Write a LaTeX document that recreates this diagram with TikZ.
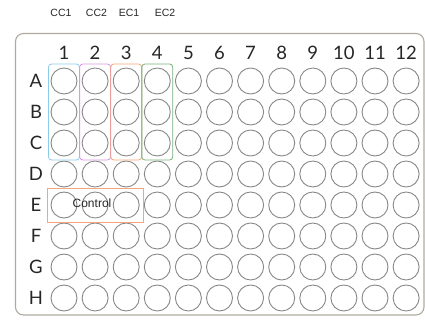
\documentclass[tikz,border=0pt]{standalone}
\usepackage{fontspec}
\setmainfont{Lato}
\newfontfamily\helv{Liberation Sans}
\usetikzlibrary{fit,positioning}
\definecolor{plateedge}{RGB}{175,170,160}
\definecolor{wellgray}{RGB}{135,135,135}
\definecolor{ccone}{RGB}{140,205,235}
\definecolor{cctwo}{RGB}{215,150,220}
\definecolor{econe}{RGB}{245,165,120}
\definecolor{ectwo}{RGB}{120,175,120}
\tikzset{well/.style={circle,draw=wellgray,line width=0.9pt,minimum size=26pt,inner sep=0pt},
  lbl/.style={font=\fontsize{18.5}{18.5}\selectfont,text=black!85,inner sep=0pt},
  grp/.style={font=\helv\fontsize{10.5}{11}\selectfont,text=black!85,inner sep=0pt},
  colbox/.style={draw=#1,line width=0.8pt,rounded corners=3pt,inner xsep=2pt,inner ysep=3.5pt}}

\begin{document}
\begin{tikzpicture}[x=1pt,y=-1pt,line join=round]
\useasboundingbox (0,0) rectangle (425,320);
% --- plate outline
\draw[plateedge,line width=1.1pt,rounded corners=8pt] (15.5,33.5) rectangle (424,315);
% --- wells, row and column labels
\foreach \r [count=\i] in {A,B,C,D,E,F,G,H} {
  \node[lbl] (r\r) at (36,{81+31*(\i-1)}) {\r};
  \foreach \c in {1,...,12}
    \node[well] (w\r\c) at ({64+31.1*(\c-1)},{81+31*(\i-1)}) {};
}
\foreach \c in {1,...,12} \node[lbl] (c\c) at ({64+31.1*(\c-1)},53) {\c};
% --- group columns
\node[colbox=ccone,fit=(wA1)(wC1)] (g1) {};
\node[colbox=cctwo,fit=(wA2)(wC2)] (g2) {};
\node[colbox=econe,fit=(wA3)(wC3)] (g3) {};
\node[colbox=ectwo,fit=(wA4)(wC4)] (g4) {};
\node[grp] (t1) at (61,13) {CC1};
\node[grp] (t2) at (96.5,13) {CC2};
\node[grp] (t3) at (129,13) {EC1};
\node[grp] (t4) at (165,13) {EC2};
% --- control row
\node[draw=econe,line width=0.8pt,inner sep=3.5pt,fit=(wE1)(wE3)] (ctl) {};
\node[font=\helv\fontsize{12}{12}\selectfont,text=black!85] at (92,203) {Control};
\end{tikzpicture}
\end{document}
